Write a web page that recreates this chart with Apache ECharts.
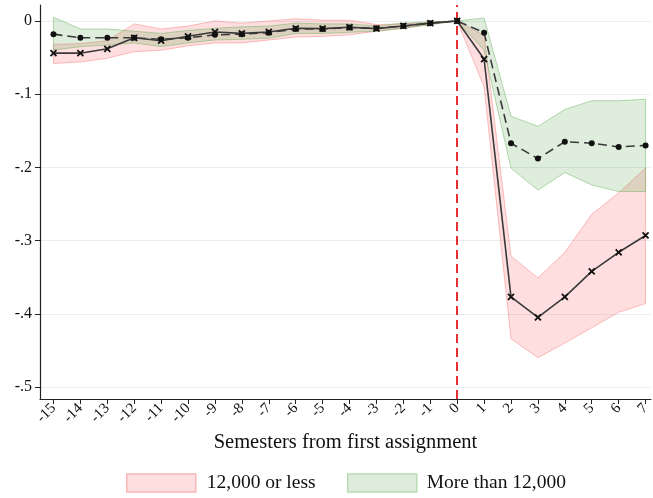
<!DOCTYPE html>
<html>
<head>
<meta charset="utf-8">
<script src="https://cdn.jsdelivr.net/npm/echarts@6/dist/echarts.min.js"></script>
<style>
  html, body { margin: 0; padding: 0; background: #fff; }
  #chart { width: 653px; height: 498px; }
</style>
</head>
<body>
<div id="chart"></div>
<script>
const semesters = [-15, -14, -13, -12, -11, -10, -9, -8, -7, -6, -5, -4, -3, -2, -1, 0, 1, 2, 3, 4, 5, 6, 7];
const yTicks = [-0.5, -0.4, -0.3, -0.2, -0.1, 0];

// 12,000 or less
const lowEst = [-0.044, -0.044, -0.038, -0.023, -0.027, -0.021, -0.015, -0.017, -0.015, -0.010, -0.0105, -0.0086, -0.0105, -0.0068, -0.003, 0,
  -0.052, -0.377, -0.405, -0.377, -0.342, -0.316, -0.293];
const lowUpper = [-0.032, -0.031, -0.027, -0.004, -0.011, -0.007, 0.000, -0.003, 0.000, 0.003, 0.001, 0.001, -0.005, -0.004, -0.002, 0,
  -0.020, -0.321, -0.351, -0.316, -0.264, -0.235, -0.201];
const lowLower = [-0.058, -0.056, -0.051, -0.042, -0.040, -0.034, -0.030, -0.030, -0.026, -0.022, -0.021, -0.019, -0.014, -0.010, -0.005, 0,
  -0.090, -0.434, -0.460, -0.440, -0.419, -0.398, -0.386];

// More than 12,000
const highEst = [-0.018, -0.023, -0.023, -0.023, -0.025, -0.023, -0.019, -0.018, -0.016, -0.011, -0.011, -0.009, -0.010, -0.007, -0.003, 0,
  -0.016, -0.167, -0.188, -0.165, -0.167, -0.172, -0.170];
const highUpper = [0.005, -0.011, -0.011, -0.014, -0.017, -0.013, -0.010, -0.008, -0.007, -0.003, -0.004, -0.004, -0.007, -0.003, -0.001, 0,
  0.004, -0.130, -0.144, -0.121, -0.109, -0.109, -0.107];
const highLower = [-0.040, -0.035, -0.033, -0.030, -0.035, -0.030, -0.026, -0.025, -0.0235, -0.017, -0.017, -0.0155, -0.014, -0.010, -0.005, 0,
  -0.040, -0.201, -0.231, -0.207, -0.224, -0.233, -0.233];

const font = "'Liberation Serif', 'DejaVu Serif', serif";

function pairs(vals) {
  return semesters.map((x, i) => [x, vals[i]]);
}
function bandRows(up, lo) {
  return semesters.map((x, i) => [x, lo[i], up[i]]);
}

// one polygon for the whole band, drawn when the first item is rendered
function makeBand(name, rows, fill, stroke, legendColor) {
  return {
    name: name,
    type: 'custom',
    data: rows,
    encode: { x: 0, y: [1, 2] },
    itemStyle: { color: legendColor },
    renderItem: function (params, api) {
      if (params.dataIndex !== 0) return null;
      const top = rows.map(r => api.coord([r[0], r[2]]));
      const bottom = rows.map(r => api.coord([r[0], r[1]])).reverse();
      return {
        type: 'polygon',
        shape: { points: top.concat(bottom) },
        style: { fill: fill, stroke: stroke, lineWidth: 1 }
      };
    },
    z: 1
  };
}

const chart = echarts.init(document.getElementById('chart'));

const xMarker = 'path://M0,0L10,10M10,0L0,10';

chart.setOption({
  animation: false,
  textStyle: { fontFamily: font },
  grid: { left: 40, top: 5, width: 614.5, height: 394 },
  legend: [
    {
      left: 121, top: 468,
      itemWidth: 69, itemHeight: 18,
      textStyle: { fontFamily: font, fontSize: 19.5, color: '#111', padding: [0, 0, 0, 6] },
      data: [{ name: '12,000 or less', icon: 'rect',
        itemStyle: { color: '#fddfdf', borderColor: '#f9b6b6', borderWidth: 1.5 } }]
    },
    {
      left: 342, top: 468,
      itemWidth: 69, itemHeight: 18,
      textStyle: { fontFamily: font, fontSize: 19.5, color: '#111', padding: [0, 0, 0, 5] },
      data: [{ name: 'More than 12,000', icon: 'rect',
        itemStyle: { color: '#deeddb', borderColor: '#b9dbb3', borderWidth: 1.5 } }]
    }
  ],
  xAxis: {
    type: 'value',
    min: -15.5,
    max: 7.2,
    name: 'Semesters from first assignment',
    nameLocation: 'middle',
    nameGap: 30,
    nameTextStyle: { fontFamily: font, fontSize: 20.5, color: '#111' },
    axisLine: { onZero: false, lineStyle: { color: '#222', width: 1.2 } },
    axisTick: { customValues: semesters, length: 5, lineStyle: { color: '#222' } },
    axisLabel: {
      customValues: semesters,
      rotate: 45,
      margin: 7,
      fontFamily: font,
      fontSize: 15,
      color: '#111'
    },
    splitLine: { show: false }
  },
  yAxis: {
    type: 'value',
    min: -0.5164,
    max: 0.0218,
    axisLine: { show: true, onZero: false, lineStyle: { color: '#222', width: 1.2 } },
    axisTick: { show: true, customValues: yTicks, length: 5, lineStyle: { color: '#222' } },
    axisLabel: {
      customValues: yTicks,
      margin: 8,
      fontFamily: font,
      fontSize: 16,
      color: '#111',
      formatter: v => Math.abs(v) < 1e-9 ? '0' : '-.' + Math.round(-v * 10)
    },
    splitLine: { show: true, lineStyle: { color: '#e6eef1', width: 1 } }
  },
  series: [
    makeBand('12,000 or less', bandRows(lowUpper, lowLower), 'rgba(250,90,90,0.2)', 'rgba(248,140,140,0.55)', '#fddfdf'),
    makeBand('More than 12,000', bandRows(highUpper, highLower), 'rgba(60,150,50,0.17)', 'rgba(110,180,100,0.5)', '#deeddb'),
    {
      name: 'lowEstimate', type: 'line',
      data: pairs(lowEst),
      symbol: xMarker, symbolSize: 6,
      itemStyle: { color: '#111', borderColor: '#111', borderWidth: 1.8 },
      lineStyle: { color: '#3a3a3a', width: 1.6 },
      z: 5,
      markLine: {
        silent: true,
        symbol: 'none',
        label: { show: false },
        lineStyle: { color: '#e41a1c', width: 1.8, type: [9, 5] },
        data: [{ xAxis: 0 }]
      }
    },
    {
      name: 'highEstimate', type: 'line',
      data: pairs(highEst),
      symbol: 'circle', symbolSize: 6,
      itemStyle: { color: '#111' },
      lineStyle: { color: '#3a3a3a', width: 1.6, type: [9, 5] },
      z: 5
    }
  ]
});
</script>
</body>
</html>
